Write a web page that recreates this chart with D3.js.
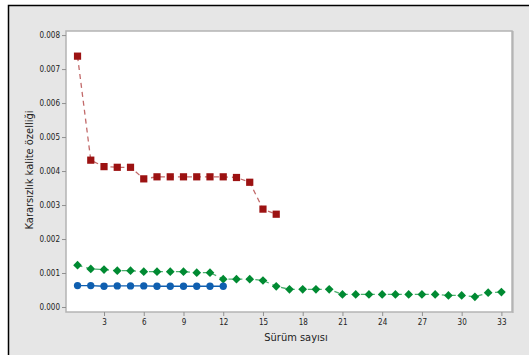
<!DOCTYPE html>
<html>
<head>
<meta charset="utf-8">
<script src="https://cdn.jsdelivr.net/npm/d3@7"></script>
<style>
html, body { margin: 0; background: #fff; overflow: hidden; }
svg { display: block; }
text { font-family: "DejaVu Sans Condensed", "DejaVu Sans", sans-serif; }
</style>
</head>
<body>
<div id="chart"></div>
<script>
// values
var redVals = [0.00738, 0.00432, 0.00413, 0.00411, 0.00411, 0.00377, 0.00383, 0.00383,
	0.00383, 0.00383, 0.00383, 0.00383, 0.00381, 0.00367, 0.00288, 0.00273];
var greenVals = [0.00123, 0.00112, 0.00110, 0.00107, 0.00107, 0.00104, 0.00104, 0.00104,
	0.00104, 0.00101, 0.00101, 0.00082, 0.00082, 0.00082, 0.00078, 0.00061, 0.00052,
	0.00052, 0.00052, 0.00052, 0.00037, 0.00037, 0.00037, 0.00037, 0.00037, 0.00037,
	0.00037, 0.00037, 0.00034, 0.00034, 0.00030, 0.00042, 0.00044];
var blueVals = [0.00063, 0.00063, 0.00061, 0.00062, 0.00062, 0.00062, 0.00061, 0.00061,
	0.00061, 0.00061, 0.00061, 0.00061];
var xTicks = [3, 6, 9, 12, 15, 18, 21, 24, 27, 30, 33];
var yTicks = [0, 0.001, 0.002, 0.003, 0.004, 0.005, 0.006, 0.007, 0.008];

var w = 529, h = 355;
var svg = d3.select("#chart").append("svg")
	.attr("width", w)
	.attr("height", h);

svg.append("rect")
	.attr("x", 8.5).attr("y", 5.5)
	.attr("width", w + 20).attr("height", h + 20)
	.attr("fill", "#e6e6e6")
	.attr("stroke", "#000")
	.attr("stroke-width", 1.5);

var pLeft = 66, pRight = 512, pTop = 31, pBottom = 312;

var x = d3.scaleLinear().domain([0.13, 33.8]).range([pLeft, pRight]);
var y = d3.scaleLinear().domain([-0.000147, 0.00812]).range([pBottom, pTop]);

svg.append("rect")
	.attr("x", pLeft).attr("y", pTop)
	.attr("width", pRight - pLeft).attr("height", pBottom - pTop)
	.attr("fill", "#fff")
	.attr("stroke", "#b4b4b4")
	.attr("stroke-width", 1.5);
// slightly darker right edge like the original frame
svg.append("line")
	.attr("x1", pRight + 1).attr("x2", pRight + 1)
	.attr("y1", pTop).attr("y2", pBottom + 1)
	.attr("stroke", "#a8a8a8")
	.attr("stroke-width", 1);

var xAxis = svg.append("g")
	.attr("transform", "translate(0," + pBottom + ")")
	.call(d3.axisBottom(x).tickValues(xTicks).tickSize(4).tickPadding(3));
var yAxis = svg.append("g")
	.attr("transform", "translate(" + pLeft + ",0)")
	.call(d3.axisLeft(y).tickValues(yTicks).tickFormat(d3.format(".3f")).tickSize(4).tickPadding(2));

[xAxis, yAxis].forEach(function(a){
	a.select(".domain").remove();
	a.selectAll(".tick line").attr("stroke", "#909090");
	a.selectAll(".tick text").attr("fill", "#222").style("font-size", "8px")
		.style("font-family", "'DejaVu Sans Condensed', 'DejaVu Sans', sans-serif");
});

function pts(vals){
	return vals.map(function(v, i){ return [i + 1, v]; });
}
var line = d3.line()
	.x(function(d){ return x(d[0]); })
	.y(function(d){ return y(d[1]); });

var series = [
	{ vals: redVals, color: "#9c1212", lineColor: "#c26a6a", dash: "5,4", shape: d3.symbolSquare, size: 52, rot: 0 },
	{ vals: greenVals, color: "#008a32", lineColor: "#4caf6e", dash: "5,4", shape: d3.symbolSquare, size: 38, rot: 45 },
	{ vals: blueVals, color: "#0f5fb0", lineColor: "#0f5fb0", dash: null, shape: d3.symbolCircle, size: 42, rot: 0 }
];

series.forEach(function(s){
	var g = svg.append("g");
	g.append("path")
		.datum(pts(s.vals))
		.attr("d", line)
		.attr("fill", "none")
		.attr("stroke", s.lineColor)
		.attr("stroke-width", 1.3)
		.attr("stroke-dasharray", s.dash);
	g.selectAll("path.m")
		.data(pts(s.vals))
		.enter().append("path")
		.attr("class", "m")
		.attr("transform", function(d){
			return "translate(" + x(d[0]) + "," + y(d[1]) + ") rotate(" + s.rot + ")";
		})
		.attr("d", d3.symbol().type(s.shape).size(s.size))
		.attr("fill", s.color);
});

svg.append("text")
	.attr("x", 296).attr("y", 341)
	.attr("text-anchor", "middle")
	.style("font-size", "11px")
	.attr("fill", "#222")
	.text("Sürüm sayısı");

svg.append("text")
	.attr("transform", "translate(33,170) rotate(-90)")
	.attr("text-anchor", "middle")
	.style("font-size", "11px")
	.attr("fill", "#222")
	.text("Kararsızlık kalite özelliği");
</script>
</body>
</html>
